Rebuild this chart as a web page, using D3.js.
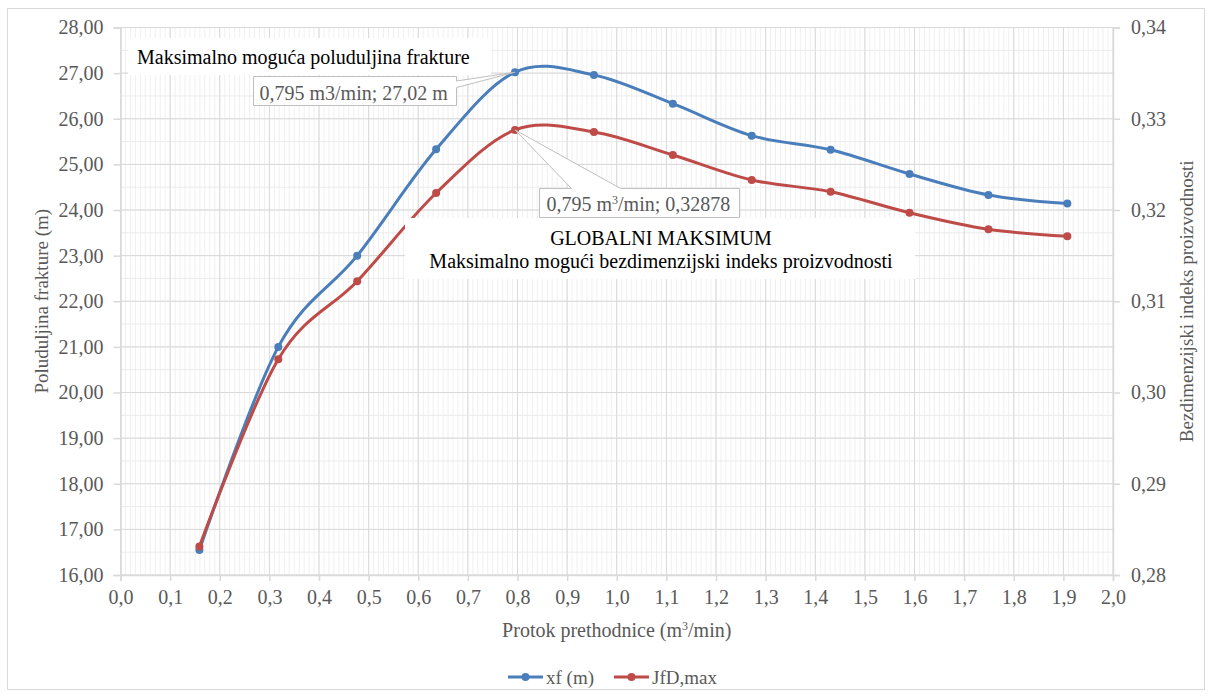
<!DOCTYPE html>
<html>
<head>
<meta charset="utf-8">
<script src="https://cdn.jsdelivr.net/npm/d3@7"></script>
<style>
  html, body { margin: 0; padding: 0; background: #fff; }
  svg { display: block; }
  text { font-family: "Liberation Serif", "Times New Roman", serif; }
</style>
</head>
<body>
<svg id="chart" width="1212" height="697"></svg>
<script>
// ---- data ----
const flowRates = [0.159, 0.318, 0.477, 0.636, 0.795, 0.954, 1.113, 1.272, 1.431, 1.59, 1.749, 1.908];
const xfValues  = [16.55, 21.00, 23.00, 25.33, 27.02, 26.96, 26.33, 25.63, 25.32, 24.79, 24.33, 24.14];
const jfdValues = [0.28312, 0.30365, 0.31220, 0.32186, 0.32878, 0.32855, 0.32603, 0.32329, 0.32200, 0.31970, 0.31789, 0.31712];
const xTicks = [0, 0.1, 0.2, 0.3, 0.4, 0.5, 0.6, 0.7, 0.8, 0.9, 1.0, 1.1, 1.2, 1.3, 1.4, 1.5, 1.6, 1.7, 1.8, 1.9, 2.0];
const leftTicks = [16, 17, 18, 19, 20, 21, 22, 23, 24, 25, 26, 27, 28];
const rightTicks = [0.28, 0.29, 0.30, 0.31, 0.32, 0.33, 0.34];
const seriesNames = ["xf (m)", "JfD,max"];
const leftTitle = "Poluduljina frakture (m)";
const rightTitle = "Bezdimenzijski indeks proizvodnosti";
const maxIndex = 4;

const svg = d3.select("#chart");
const L = 120.5, R = 1113, T = 27.5, B = 575;
const x = d3.scaleLinear().domain([0, 2]).range([L, R]);
const yL = d3.scaleLinear().domain([16, 28]).range([B, T]);
const yR = d3.scaleLinear().domain([0.28, 0.34]).range([B, T]);
const comma = (v, d) => v.toFixed(d).replace(".", ",");
const blue = "#4a7ebb", red = "#be4b48";
const gray = "#595959";

// outer border
svg.append("rect").attr("x", 7.5).attr("y", 8.5).attr("width", 1197).attr("height", 681)
  .attr("fill", "#fff").attr("stroke", "#d9d9d9");

// minor grid
const g = svg.append("g");
g.selectAll(".vmin").data(d3.range(0, 201).map(i => i / 100)).join("line")
  .attr("x1", d => x(d)).attr("x2", d => x(d)).attr("y1", T).attr("y2", B)
  .attr("stroke", "#f0f0f0").attr("stroke-width", 1);
g.selectAll(".hmin").data(d3.range(0, 25).map(i => 16 + i * 0.5)).join("line")
  .attr("x1", L).attr("x2", R).attr("y1", d => yL(d)).attr("y2", d => yL(d))
  .attr("stroke", "#ebebeb").attr("stroke-width", 1);
// major grid
g.selectAll(".vmaj").data(xTicks).join("line")
  .attr("x1", d => x(d)).attr("x2", d => x(d)).attr("y1", T).attr("y2", B)
  .attr("stroke", "#d9d9d9").attr("stroke-width", 1);
g.selectAll(".hmaj").data(leftTicks).join("line")
  .attr("x1", L).attr("x2", R).attr("y1", d => yL(d)).attr("y2", d => yL(d))
  .attr("stroke", "#d9d9d9").attr("stroke-width", 1);

// axes
const axX = d3.axisBottom(x).tickValues(xTicks).tickSize(6).tickPadding(9).tickFormat(d => comma(d, 1));
const axL = d3.axisLeft(yL).tickValues(leftTicks).tickSize(7).tickPadding(10).tickFormat(d => comma(d, 2));
const axR = d3.axisRight(yR).tickValues(rightTicks).tickSize(7).tickPadding(11).tickFormat(d => comma(d, 2));
function styleAxis(sel) {
  sel.selectAll("path").attr("stroke", "#d9d9d9").attr("stroke-width", 1.5);
  sel.selectAll("line").attr("stroke", "#d9d9d9").attr("stroke-width", 1.5);
  sel.selectAll("text").attr("fill", gray).attr("font-size", 20)
    .attr("font-family", "Liberation Serif");
}
svg.append("g").attr("transform", `translate(0,${B})`).call(axX).call(styleAxis);
svg.append("g").attr("transform", `translate(${L},0)`).call(axL).call(styleAxis);
svg.append("g").attr("transform", `translate(${R},0)`).call(axR).call(styleAxis);

// axis titles
svg.append("text").attr("transform", `translate(48,${(T + B) / 2}) rotate(-90)`)
  .attr("text-anchor", "middle").attr("fill", gray).attr("font-size", 19).text(leftTitle);
svg.append("text").attr("transform", `translate(1193,${(T + B) / 2}) rotate(-90)`)
  .attr("text-anchor", "middle").attr("fill", gray).attr("font-size", 19).text(rightTitle);
const xt = svg.append("text").attr("x", (L + R) / 2).attr("y", 637)
  .attr("text-anchor", "middle").attr("fill", gray).attr("font-size", 20);
xt.append("tspan").text("Protok prethodnice (m");
xt.append("tspan").attr("font-size", 12).attr("dy", -7).text("3");
xt.append("tspan").attr("dy", 7).text("/min)");

// series
const lineXf = d3.line().x((d, i) => x(flowRates[i])).y(d => yL(d)).curve(d3.curveCatmullRom.alpha(0));
const lineJ = d3.line().x((d, i) => x(flowRates[i])).y(d => yR(d)).curve(d3.curveCatmullRom.alpha(0));
svg.append("path").datum(xfValues).attr("d", lineXf).attr("fill", "none").attr("stroke", blue).attr("stroke-width", 3);
svg.append("path").datum(jfdValues).attr("d", lineJ).attr("fill", "none").attr("stroke", red).attr("stroke-width", 3);
svg.selectAll(".mxf").data(xfValues).join("circle")
  .attr("cx", (d, i) => x(flowRates[i])).attr("cy", d => yL(d)).attr("r", 4).attr("fill", blue);
svg.selectAll(".mj").data(jfdValues).join("circle")
  .attr("cx", (d, i) => x(flowRates[i])).attr("cy", d => yR(d)).attr("r", 4).attr("fill", red);

// annotation: title box top-left
svg.append("rect").attr("x", 128).attr("y", 38).attr("width", 363).attr("height", 37).attr("fill", "#fff");
svg.append("text").attr("x", 137).attr("y", 64).attr("fill", "#000").attr("font-size", 20)
  .text("Maksimalno moguća poluduljina frakture");

// callout 1
const p1 = [x(flowRates[maxIndex]), yL(xfValues[maxIndex])];
const b1 = { x: 253.5, y: 76.5, w: 203, h: 29 };
svg.append("path").attr("d",
  `M${b1.x},${b1.y}H${b1.x + b1.w}V${b1.y + 4.5}L${p1[0]},${p1[1]}L${b1.x + b1.w},${b1.y + 11}V${b1.y + b1.h}H${b1.x}Z`)
  .attr("fill", "#fff").attr("stroke", "#bfbfbf").attr("stroke-width", 1);
svg.append("text").attr("x", b1.x + 6).attr("y", b1.y + 23).attr("fill", gray).attr("font-size", 20)
  .text(`${comma(flowRates[maxIndex], 3)} m3/min; ${comma(xfValues[maxIndex], 2)} m`);

// callout 2
const p2 = [x(flowRates[maxIndex]), yR(jfdValues[maxIndex])];
const b2 = { x: 539.5, y: 188.5, w: 200, h: 29 };
svg.append("path").attr("d",
  `M${b2.x},${b2.y}H${b2.x + 32}L${p2[0]},${p2[1]}L${b2.x + 81},${b2.y}H${b2.x + b2.w}V${b2.y + b2.h}H${b2.x}Z`)
  .attr("fill", "#fff").attr("stroke", "#bfbfbf").attr("stroke-width", 1);
const t2 = svg.append("text").attr("x", b2.x + 7).attr("y", b2.y + 22).attr("fill", gray).attr("font-size", 20);
t2.append("tspan").text(`${comma(flowRates[maxIndex], 3)} m`);
t2.append("tspan").attr("font-size", 12).attr("dy", -7).text("3");
t2.append("tspan").attr("dy", 7).text(`/min; ${comma(jfdValues[maxIndex], 5)}`);

// global max box
svg.append("rect").attr("x", 405).attr("y", 218).attr("width", 510).attr("height", 61).attr("fill", "#fff");
svg.append("text").attr("x", 661).attr("y", 245).attr("text-anchor", "middle").attr("fill", "#000").attr("font-size", 20)
  .text("GLOBALNI MAKSIMUM");
svg.append("text").attr("x", 661).attr("y", 268).attr("text-anchor", "middle").attr("fill", "#000").attr("font-size", 20)
  .text("Maksimalno mogući bezdimenzijski indeks proizvodnosti");

// legend
const legend = [
  { name: seriesNames[0], color: blue, x0: 508 },
  { name: seriesNames[1], color: red, x0: 614 }
];
const lg = svg.append("g");
legend.forEach(d => {
  lg.append("line").attr("x1", d.x0).attr("x2", d.x0 + 35).attr("y1", 677).attr("y2", 677)
    .attr("stroke", d.color).attr("stroke-width", 3);
  lg.append("circle").attr("cx", d.x0 + 17.5).attr("cy", 677).attr("r", 4).attr("fill", d.color);
  lg.append("text").attr("x", d.x0 + 38).attr("y", 684).attr("fill", gray).attr("font-size", 19).text(d.name);
});
</script>
</body>
</html>
